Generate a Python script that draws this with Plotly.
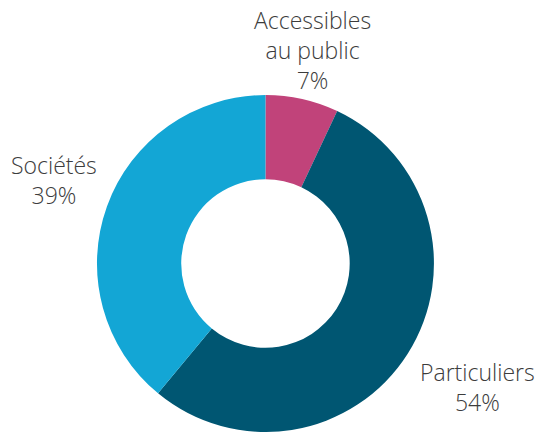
import plotly.graph_objects as go

categories = ["Accessibles au public", "Particuliers", "Sociétés"]
shares = [7, 54, 39]
colors = ["#C1437A", "#005672", "#13A6D5"]
label_text = ["Accessibles<br>au public", "Particuliers", "Sociétés"]

total = sum(shares)
pct = [f"{round(v / total * 100)}%" for v in shares]

fig = go.Figure(
    go.Pie(
        labels=categories,
        values=shares,
        hole=0.5,
        sort=False,
        direction="clockwise",
        rotation=0,
        marker=dict(colors=colors, line=dict(width=0)),
        textinfo="none",
        hoverinfo="label+percent",
        showlegend=False,
        domain=dict(x=[0.0, 0.985], y=[0.0, 0.78]),
    )
)

# label placements (paper coordinates) around the ring
label_pos = [(0.580, 0.884), (0.886, 0.104), (0.100, 0.583)]
for txt, p, (x, y) in zip(label_text, pct, label_pos):
    fig.add_annotation(
        x=x, y=y, xref="paper", yref="paper",
        text=f"{txt}<br>{p}", showarrow=False,
        xanchor="center", yanchor="middle", align="center",
        font=dict(family="Open Sans", size=23, color="#3c3c3c", weight=300),
    )

fig.update_layout(
    width=539, height=432,
    margin=dict(l=0, r=0, t=0, b=0),
    paper_bgcolor="white", plot_bgcolor="white",
)

fig.write_html("out.html")
